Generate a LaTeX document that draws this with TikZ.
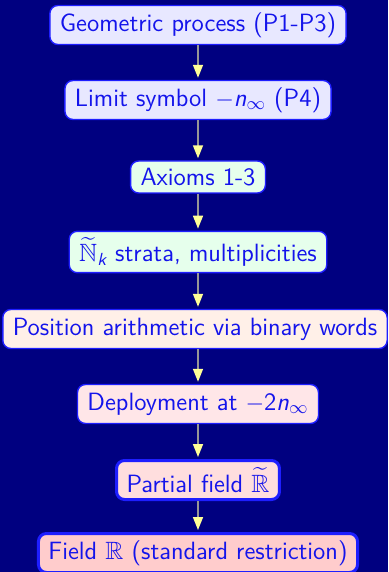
\documentclass[tikz,border=0pt]{standalone}
\usepackage{amsmath,amssymb}
\usetikzlibrary{arrows.meta}
\definecolor{bg}{RGB}{0,0,128}
\definecolor{tx}{RGB}{20,20,235}
\definecolor{bd}{RGB}{30,30,255}
\definecolor{fa}{RGB}{232,232,255}
\definecolor{fb}{RGB}{230,255,236}
\definecolor{fc}{RGB}{255,240,232}
\definecolor{fd}{RGB}{255,230,232}
\definecolor{fe}{RGB}{255,222,222}
\definecolor{ff}{RGB}{255,204,204}
\definecolor{ln}{RGB}{150,150,150}
\definecolor{tp}{RGB}{255,255,150}
\tikzset{
  box/.style={draw=bd, line width=0.7pt, rounded corners=4pt, text=tx,
    font=\sffamily\fontsize{12.5}{14}\selectfont, inner xsep=5pt, inner ysep=3pt,
    minimum height=19.5pt},
  thickbox/.style={box, line width=1.5pt},
  conn/.style={draw=ln, line width=0.8pt,
    -{Triangle[width=5pt,length=6.5pt,fill=tp,color=tp]}, shorten >=1pt}
}
\newcommand{\ninf}{\text{\itshape n}_\infty}
\begin{document}
\begin{tikzpicture}[x=0.5pt,y=0.5pt]
\fill[bg] (0,0) rectangle (388,-572);
\useasboundingbox (0,0) rectangle (388,-572);
\node[box, fill=fa] (n1) at (198,-25) {Geometric process (P1-P3)};
\node[box, fill=fa] (n2) at (198,-100) {Limit symbol $-\ninf$ (P4)};
\node[box, fill=fb, minimum height=16pt] (n3) at (198,-177) {Axioms 1-3};
\node[box, fill=fb] (n4) at (198,-252) {$\widetilde{\mathbb{N}}_{\text{\itshape k}}$ strata, multiplicities};
\node[box, fill=fc] (n5) at (195,-329) {Position arithmetic via binary words};
\node[box, fill=fd] (n6) at (198,-404) {Deployment at $-\text{2}\ninf$};
\node[thickbox, fill=fe] (n7) at (198,-480) {Partial field $\widetilde{\mathbb{R}}$};
\node[thickbox, fill=ff] (n8) at (198,-553) {Field $\mathbb{R}$ (standard restriction)};
\draw[conn] (n1.south) -- (n1.south |- n2.north);
\draw[conn] (n2.south) -- (n2.south |- n3.north);
\draw[conn] (n3.south) -- (n3.south |- n4.north);
\draw[conn] (n4.south) -- (n4.south |- n5.north);
\draw[conn] (n4.south |- n5.south) -- (n4.south |- n6.north);
\draw[conn] (n6.south) -- (n6.south |- n7.north);
\draw[conn] (n7.south) -- (n7.south |- n8.north);
\end{tikzpicture}
\end{document}
